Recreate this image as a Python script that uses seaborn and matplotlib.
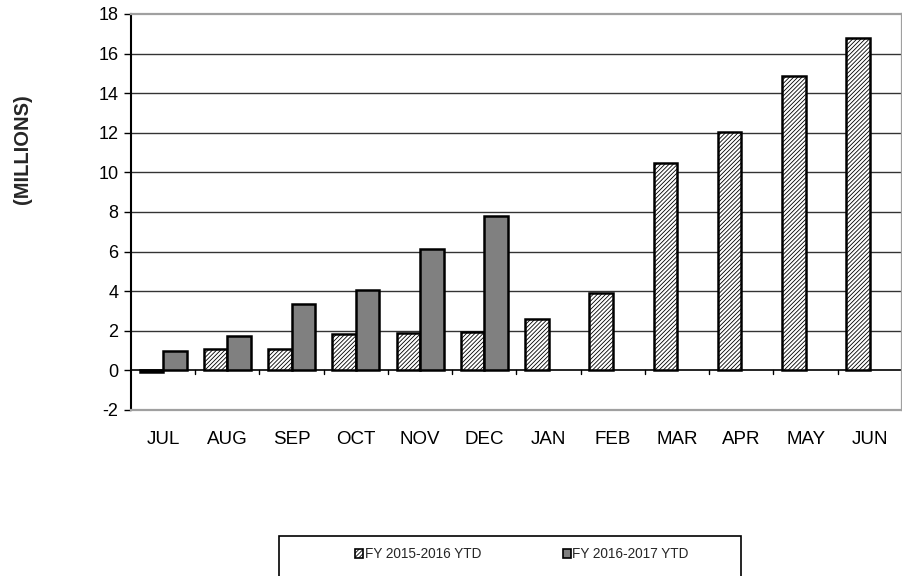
import numpy as np
import pandas as pd
import matplotlib
matplotlib.use("Agg")
import matplotlib.pyplot as plt
from matplotlib.patches import Patch, Rectangle
import seaborn as sns

months = ["JUL", "AUG", "SEP", "OCT", "NOV", "DEC", "JAN", "FEB", "MAR", "APR", "MAY", "JUN"]
fy1516 = [-0.1, 1.1, 1.1, 1.85, 1.9, 1.95, 2.6, 3.9, 10.45, 12.05, 14.85, 16.8]
fy1617 = [1.0, 1.75, 3.35, 4.05, 6.15, 7.8, np.nan, np.nan, np.nan, np.nan, np.nan, np.nan]
series = ["FY 2015-2016 YTD", "FY 2016-2017 YTD"]
yticks = list(range(-2, 19, 2))

sns.set_theme(style="white")
plt.rcParams["font.family"] = ["Liberation Sans", "DejaVu Sans"]
plt.rcParams["hatch.color"] = "#3a3a3a"
plt.rcParams["hatch.linewidth"] = 0.6

df = pd.DataFrame({
    "month": months * 2,
    "value": fy1516 + fy1617,
    "series": [series[0]] * 12 + [series[1]] * 12,
}).dropna()

fig = plt.figure(figsize=(9.03, 5.76), dpi=100)
ax = fig.add_axes([131 / 903, 1 - 410 / 576, 771 / 903, 396 / 576])

sns.barplot(data=df, x="month", y="value", hue="series", order=months,
            hue_order=series, palette=["white", "#808080"], width=0.73,
            edgecolor="black", linewidth=1.8, ax=ax, legend=False, errorbar=None,
            saturation=1)
for bar in ax.containers[0]:
    bar.set_hatch("////////")

ax.set_ylim(-2, 18)
ax.set_xlim(-0.5, 11.5)
ax.set_yticks(yticks)
ax.set_yticklabels([str(t) for t in yticks], fontsize=13, color="black")
ax.set_xticklabels(months, fontsize=13.5, color="black")
ax.set_xlabel("")
ax.set_ylabel("")
ax.tick_params(axis="x", length=0, pad=15)
ax.tick_params(axis="y", length=5, width=1, color="black", direction="out", left=True, pad=4)

for y in yticks:
    if y in (-2, 18):
        continue
    ax.axhline(y, color="black" if y == 0 else "#333333", lw=1.2 if y == 0 else 1.0, zorder=0)

# category separator ticks on the zero line
for xb in np.arange(0.5, 11.5, 1.0):
    ax.plot([xb, xb], [0, -0.2], color="black", lw=1, zorder=1, clip_on=False)

for side in ("top", "right", "bottom"):
    ax.spines[side].set_color("#a0a0a0")
    ax.spines[side].set_linewidth(1.6)
ax.spines["left"].set_color("black")
ax.spines["left"].set_linewidth(1.5)

fig.text(23 / 903, 1 - 149 / 576, "(MILLIONS)", rotation=90, fontsize=14.5,
         fontweight="bold", ha="center", va="center")

# legend
fig.patches.append(Rectangle((279 / 903, -0.02), 462 / 903, 0.02 + 40 / 576,
                             transform=fig.transFigure, fill=False,
                             edgecolor="black", lw=1.2))
handles = [Patch(facecolor="white", edgecolor="black", hatch="////////", lw=1.2),
           Patch(facecolor="#808080", edgecolor="black", lw=1.2)]
fig.legend(handles, series, loc="center", bbox_to_anchor=(522 / 903, 1 - 554 / 576),
           ncol=2, frameon=False, fontsize=9.8, handlelength=0.6, handleheight=0.6,
           handletextpad=0.1, columnspacing=6.0)

fig.savefig("out.png", dpi=100)
